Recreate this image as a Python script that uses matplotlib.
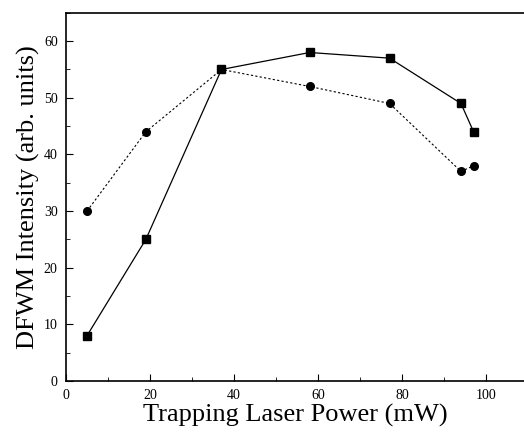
import matplotlib
matplotlib.use('Agg')
import matplotlib.pyplot as plt
from matplotlib.ticker import MultipleLocator

plt.rcParams['font.family'] = ['Liberation Serif', 'DejaVu Serif']

power = [5, 19, 37, 58, 77, 94, 97]
sq_vals = [8, 25, 55, 58, 57, 49, 44]
circ_vals = [30, 44, 55, 52, 49, 37, 38]

fig = plt.figure(figsize=(5.24, 4.43), dpi=100)
ax = fig.add_axes([0.126, 0.14, 0.874, 0.831])

ax.plot(power, sq_vals, color='black', lw=0.9, marker='s', ms=6)
ax.plot(power, circ_vals, color='black', lw=0.8, ls=(0, (2, 2)), marker='o', ms=5.5)

ax.set_xlim(0, 109)
ax.set_ylim(0, 65)
ax.xaxis.set_major_locator(MultipleLocator(20))
ax.xaxis.set_minor_locator(MultipleLocator(10))
ax.yaxis.set_major_locator(MultipleLocator(10))
ax.yaxis.set_minor_locator(MultipleLocator(5))
ax.tick_params(which='both', direction='in', labelsize=10, pad=6)
ax.tick_params(which='major', length=5)
ax.tick_params(which='minor', length=3)
ax.spines['right'].set_visible(False)
for s in ['left', 'bottom', 'top']:
    ax.spines[s].set_linewidth(1.2)

ax.set_xlabel('Trapping Laser Power (mW)', fontsize=19, labelpad=1)
ax.set_ylabel('DFWM Intensity (arb. units)', fontsize=19, labelpad=3)

fig.savefig('out.png', dpi=100)
